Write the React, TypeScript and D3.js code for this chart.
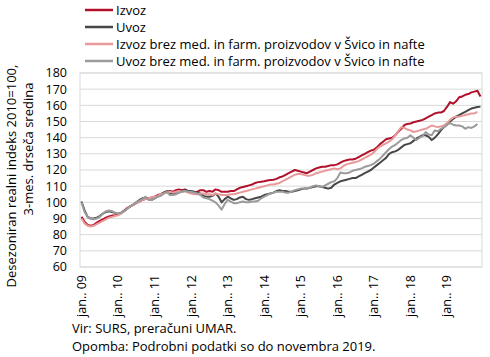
import React from "react";
import * as d3 from "d3";

// ---------- data ----------
const years = ["09", "10", "11", "12", "13", "14", "15", "16", "17", "18", "19"];
const xTickLabels = years.map((y) => `jan.. ${y}`);
const yTicks = [60, 70, 80, 90, 100, 110, 120, 130, 140, 150, 160, 170, 180];

// monthly, Jan 2009 – Dec 2019
const izvoz = [
  91, 88, 86, 85.5, 86, 87.5, 88.5, 89.5, 90.5, 91.2, 91.8, 92,
  92.5, 93.5, 95, 96.5, 97.5, 98.5, 99.5, 100.5, 101.5, 102, 102.6, 103,
  103.5, 104.5, 105, 106, 106.5, 107, 106.5, 107.5, 108, 107.5, 108, 107,
  106.5, 106, 106.5, 107.5, 107.5, 106.5, 107, 106.5, 108, 107.5, 106.5, 106.5,
  106.5, 107, 107, 108, 109, 109.5, 110, 110.5, 111, 112, 112.5, 112.8,
  113, 113.5, 113.8, 114, 114.5, 115.5, 116, 117, 118, 119, 120, 119.5,
  119, 118.5, 118, 119, 120, 121, 121.5, 122, 122, 122.5, 123, 123,
  123.5, 124.5, 125.5, 126, 126.5, 126.5, 127, 128, 129, 130, 131, 132,
  132.5, 134, 136, 137.5, 139, 139.5, 140, 141.5, 143.7, 145.5, 147.8, 148.5,
  148.8, 149.5, 150, 150.5, 151, 152, 153, 154, 155, 155.5, 155.5, 156.5,
  159, 162, 161, 162.5, 165, 165.5, 166.5, 167, 168, 168.5, 169, 165.5,
];

const uvoz = [
  100.5, 95, 91, 90, 90, 90.5, 91.5, 93, 94, 94.5, 94, 93.5,
  93, 93.5, 94.5, 96, 97.5, 98.5, 100, 101.5, 102.5, 103, 102, 101.5,
  102.5, 103.5, 104.5, 106, 107, 105.5, 105, 105.5, 106, 107, 107.5, 107,
  107, 106.5, 106, 105.5, 104, 103.5, 103.5, 104, 105.5, 103.5, 100, 102,
  103.5, 102.5, 101.5, 102, 103, 103.5, 102, 101.5, 102, 102.5, 103, 103.5,
  104.5, 105, 105.5, 106, 107, 107.5, 107, 107, 106.5, 106.5, 107, 107.5,
  108, 108.5, 108.5, 109, 109.5, 110, 110, 109.5, 109, 108.5, 109, 111,
  112, 113, 113.5, 114, 114.5, 115, 115, 116, 117, 118, 119, 120,
  121.5, 123, 124.5, 126, 127.5, 130, 131, 131.5, 132.5, 134, 135.5, 136,
  136.5, 138, 139.5, 140.5, 141.5, 141.5, 140.5, 138.5, 140, 142, 144.5, 146.5,
  148, 150, 151.5, 153, 154, 155, 156, 157, 158, 158.5, 159, 159.2,
];

// monthly, Jan 2009 – Nov 2019
const izvozBrez = [
  90, 87, 85.5, 85, 85.5, 86.5, 87.5, 88.5, 89.5, 90.5, 91, 91.5,
  92, 93, 94.5, 96, 97.5, 98.5, 99.5, 100.5, 101.5, 102, 102.5, 103,
  103.5, 104, 105, 105.5, 106, 106.5, 106, 106.5, 107, 106.5, 107, 106,
  105.5, 105, 105, 105.5, 105.5, 105, 105, 104.5, 105.5, 105, 104.5, 104.5,
  104.5, 105, 105, 105.5, 106, 106.5, 107, 107.5, 108, 108.5, 109, 109.5,
  110, 110.5, 111, 111, 111.5, 112, 113, 114, 115, 116, 117, 117.5,
  117.5, 117, 116.5, 116.5, 117, 118, 118.5, 119, 119.5, 120, 120.5, 121,
  120.5, 121, 122.5, 123.5, 124, 124.5, 125, 125.5, 126.5, 127.5, 128.5, 129.5,
  131, 133, 134.5, 135.5, 136.5, 137.5, 139, 141.5, 144, 146.5, 146, 145,
  144.5, 143.5, 144, 144.5, 145, 145.5, 146.5, 147.5, 147, 146.5, 147, 147.5,
  149, 151, 152.5, 153, 153, 153.5, 154, 154.5, 155, 155, 156,
];

const uvozBrez = [
  100, 94, 91, 90, 89.5, 90, 91, 93, 94.5, 95, 94.5, 93.5,
  93, 93.5, 94.5, 96, 97.5, 98.5, 100, 101, 102, 103.5, 101.5, 101.5,
  102.5, 103.5, 104, 105.5, 106.5, 104.5, 104.5, 105, 106, 106.5, 107, 106.5,
  106.5, 106, 105.5, 104.5, 103, 102.5, 102, 101, 100, 98, 95.5, 99,
  101.5, 100.5, 99.5, 99.5, 100, 100.5, 100, 100, 100.5, 100.5, 101, 102.5,
  103.5, 104.5, 105.5, 106, 106.5, 106.5, 106.5, 106, 106, 106.5, 107.5, 108,
  108.5, 108.5, 108.5, 109, 110, 110.5, 110, 109.5, 110.5, 111.5, 112.5, 113,
  115, 118.5, 118, 118, 118.5, 119.5, 120, 120.5, 121, 122, 122.5, 123,
  124, 125.5, 127, 129, 131, 133, 134.5, 135.5, 137, 138.5, 139.5, 140,
  141.5, 140, 138.5, 140, 141, 143.5, 142, 141.5, 144.5, 144, 145.5, 146.5,
  148, 149, 148, 147.5, 147.5, 147, 145.5, 146.5, 146, 147, 148.5,
];

const seriesNames = [
  "Izvoz",
  "Uvoz",
  "Izvoz brez med. in farm. proizvodov v Švico in nafte",
  "Uvoz brez med. in farm. proizvodov v Švico in nafte",
];
const seriesData = [izvoz, uvoz, izvozBrez, uvozBrez];
const seriesColors = ["#b2102a", "#474747", "#e89a9a", "#9b9b9b"];

// ---------- layout ----------
const W = 490;
const H = 357;
const left = 80;
const right = 482;
const top = 73;
const bottom = 267;
const FONT = "'Open Sans', sans-serif";

export default function App() {
  const months = d3.range(132);
  const x = d3.scalePoint<number>().domain(months).range([left, right]).padding(0.5);
  const y = d3.scaleLinear().domain([60, 180]).range([bottom, top]);
  const line = d3
    .line<number>()
    .x((_, i) => x(i) as number)
    .y((d) => y(d));

  return (
    <svg
      width={W}
      height={H}
      style={{ position: "absolute", left: 0, top: 0, background: "#fff" }}
      fontFamily={FONT}
    >
      {/* gridlines */}
      {yTicks.map((t) => (
        <line key={t} x1={left} x2={right} y1={y(t)} y2={y(t)} stroke="#d9d9d9" strokeWidth={1} />
      ))}
      <rect x={left} y={top} width={right - left} height={bottom - top} fill="none" stroke="#d9d9d9" strokeWidth={1} />

      {/* y tick labels */}
      {yTicks.map((t) => (
        <text key={t} x={67} y={y(t)} dy="0.35em" textAnchor="end" fontSize={12.5} fill="#000">
          {t}
        </text>
      ))}

      {/* x tick labels */}
      {xTickLabels.map((lab, k) => {
        const xx = x(k * 12) as number;
        return (
          <text
            key={lab}
            transform={`translate(${xx},275) rotate(-90)`}
            dy="0.35em"
            textAnchor="end"
            fontSize={12.5}
            fill="#000"
          >
            {lab}
          </text>
        );
      })}

      {/* y axis title */}
      <text transform="translate(16,176) rotate(-90)" textAnchor="middle" fontSize={13} fill="#000">
        Desezoniran realni indeks 2010=100,
      </text>
      <text transform="translate(33,149) rotate(-90)" textAnchor="middle" fontSize={13} fill="#000">
        3-mes. drseča sredina
      </text>

      {/* series */}
      {seriesData.map((d, k) => (
        <path key={k} d={line(d) || ""} fill="none" stroke={seriesColors[k]} strokeWidth={2} strokeLinejoin="round" />
      ))}

      {/* legend */}
      {seriesNames.map((n, k) => {
        const ly = 10 + k * 17;
        return (
          <g key={n}>
            <line x1={85} x2={113} y1={ly} y2={ly} stroke={seriesColors[k]} strokeWidth={2.5} />
            <text x={116} y={ly} dy="0.35em" fontSize={13} fill="#000">
              {n}
            </text>
          </g>
        );
      })}

      {/* footer */}
      <text x={72} y={333} fontSize={13} fill="#000">
        Vir: SURS, preračuni UMAR.
      </text>
      <text x={72} y={351} fontSize={13} fill="#000">
        Opomba: Podrobni podatki so do novembra 2019.
      </text>
    </svg>
  );
}
